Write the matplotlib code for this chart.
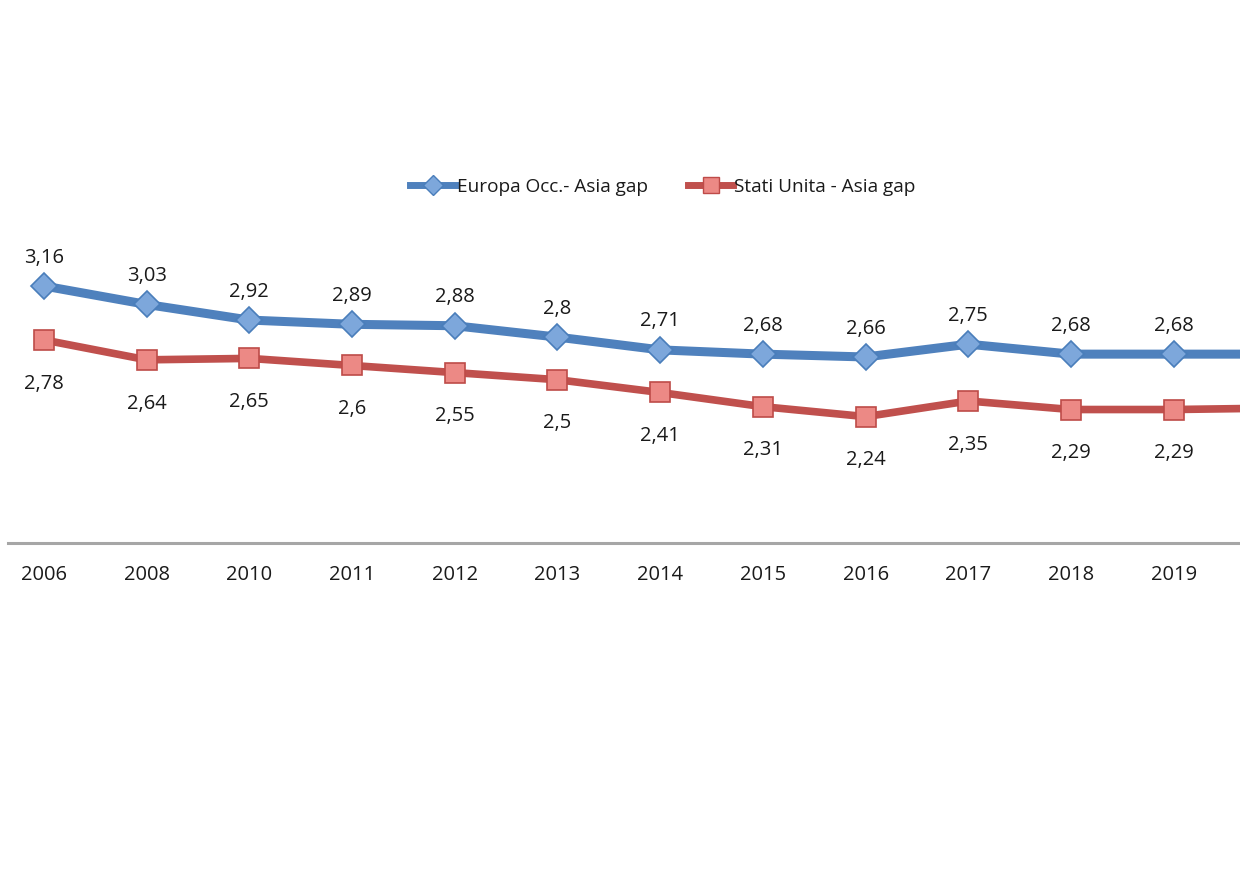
import matplotlib
matplotlib.use("Agg")
import matplotlib.pyplot as plt
from matplotlib.lines import Line2D

years = ["2006", "2008", "2010", "2011", "2012", "2013", "2014", "2015", "2016", "2017", "2018", "2019", "2020"]
europa = [3.16, 3.03, 2.92, 2.89, 2.88, 2.80, 2.71, 2.68, 2.66, 2.75, 2.68, 2.68, 2.68]
usa = [2.78, 2.64, 2.65, 2.60, 2.55, 2.50, 2.41, 2.31, 2.24, 2.35, 2.29, 2.29, 2.30]
n_labelled = 12  # last category lies beyond the picture edge

plt.rcParams['font.family'] = ['Open Sans', 'DejaVu Sans']

W, H = 1240, 874
fig = plt.figure(figsize=(W / 100, H / 100), dpi=100)
fig.patch.set_facecolor('white')

ylo, yhi = 1.35, 3.55
ax_bottom = 874 - 543
ax_h = (yhi - ylo) * 142
ax = fig.add_axes([8 / W, ax_bottom / H, (W - 8) / W, ax_h / H])
ax.set_xlim(-0.35, (1240 - 44) / 102.7)
ax.set_ylim(ylo, yhi)

x = list(range(len(years)))
blue_line = '#4F81BD'
blue_face = '#7DA7DB'
blue_edge = '#4A7EBB'
red_line = '#C0504D'
red_face = '#EC8985'
red_edge = '#BE4B48'

ax.plot(x, europa, color=blue_line, lw=6.5, marker='D', ms=13,
        mfc=blue_face, mec=blue_edge, mew=1.2, solid_capstyle='round',
        solid_joinstyle='round', zorder=3)
ax.plot(x, usa, color=red_line, lw=5.5, marker='s', ms=15,
        mfc=red_face, mec=red_edge, mew=1.2, solid_capstyle='round',
        solid_joinstyle='round', zorder=3)

def fmt(v):
    s = f"{v:.2f}".rstrip('0').rstrip('.')
    return s.replace('.', ',')

for i in range(n_labelled):
    ax.annotate(fmt(europa[i]), (x[i], europa[i]), xytext=(0, 20.5),
                textcoords='offset points', ha='center', va='center',
                fontsize=14.5, color='#1a1a1a')
    ax.annotate(fmt(usa[i]), (x[i], usa[i]), xytext=(0, -31.5),
                textcoords='offset points', ha='center', va='center',
                fontsize=14.5, color='#1a1a1a')

for s in ['top', 'right', 'left']:
    ax.spines[s].set_visible(False)
ax.spines['bottom'].set_color('#A6A6A6')
ax.spines['bottom'].set_linewidth(2.2)
ax.set_yticks([])
ax.set_xticks(x[:n_labelled])
ax.set_xticklabels(years[:n_labelled], fontsize=14.5, color='#1a1a1a')
ax.tick_params(axis='x', length=0, pad=16)
ax.patch.set_alpha(0)

handles = [
    Line2D([], [], color=blue_line, lw=5, marker='D', ms=10, mfc=blue_face, mec=blue_edge),
    Line2D([], [], color=red_line, lw=5, marker='s', ms=12, mfc=red_face, mec=red_edge),
]
fig.legend(handles, ["Europa Occ.- Asia gap", "Stati Unita - Asia gap"],
           loc='center', bbox_to_anchor=(663 / W, 1 - 187 / H), ncol=2,
           frameon=False, fontsize=13.7, handlelength=2.4, handletextpad=0.05,
           columnspacing=2.1, labelcolor='#1a1a1a')

fig.savefig('out.png', dpi=100, facecolor='white')
